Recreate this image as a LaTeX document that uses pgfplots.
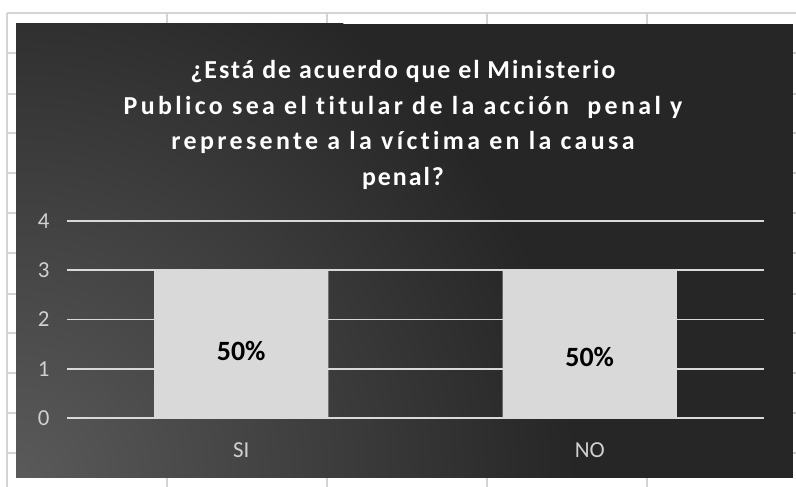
\documentclass[border=0pt]{standalone}
\usepackage{fontspec}
\setmainfont{Carlito}
\newfontfamily\titlefontA{Carlito}[LetterSpace=7.5, Ligatures=NoCommon]
\newfontfamily\titlefontB{Carlito}[LetterSpace=13, Ligatures=NoCommon]
\usepackage{pgfplots}
\pgfplotsset{compat=1.18}
\definecolor{bgdark}{HTML}{262626}
\definecolor{bglight}{HTML}{5A5A5A}
\definecolor{sheet}{HTML}{D4D4D4}
\definecolor{barc}{HTML}{D9D9D9}
\definecolor{gridc}{HTML}{D9D9D9}
\definecolor{tickc}{HTML}{D0D0D0}
\begin{document}
\begin{tikzpicture}[x=1bp,y=1bp]
\useasboundingbox (0,0) rectangle (796,487);
\fill[white] (0,0) rectangle (796,487);
\foreach \y in {13,53,94,133,173,213,253,294,333,373,413,453}
  \draw[sheet, line width=1.2bp] (7,{487-\y}) -- (796,{487-\y});
\foreach \x in {7,167,327,487,647}
  \draw[sheet, line width=1.2bp] (\x,0) -- (\x,474);
\fill[bgdark] (16,9) rectangle (793,463);
\begin{scope}
\clip (16,9) rectangle (793,463);
\shade[inner color=bglight, outer color=bgdark] (16,9) circle (560);
\end{scope}
% title
\node[white, font=\fontsize{26}{35.5}\selectfont\bfseries, align=center] at (403,362)
  {{\titlefontA\bfseries ¿Está de acuerdo que el Ministerio}\\{\titlefontB\bfseries Publico sea el titular de la acción\ \ penal y}\\{\titlefontB\bfseries represente a la víctima en la causa}\\{\titlefontA\bfseries penal?}};
\begin{axis}[
  at={(67bp,69bp)}, anchor=south west,
  scale only axis, width=697bp, height=197bp,
  xmin=-0.5, xmax=1.5, ymin=0, ymax=4,
  ytick={0,1,2,3,4}, xtick={0,1}, xticklabels={SI,NO},
  axis line style={draw=none}, major tick length=0,
  ymajorgrids, grid style={gridc, line width=1.8bp},
  ybar, bar width=0.5,
  /pgf/number format/assume math mode=true,
  tick label style={tickc, font=\fontsize{23}{27}\selectfont},
  yticklabel style={xshift=-14bp},
  xticklabel style={yshift=-21bp},
]
\addplot[fill=barc, draw=none] coordinates {(0,3) (1,3)};
\node[black, font=\fontsize{28}{32}\selectfont\bfseries] at (axis cs:0,1.36) {50\%};
\node[black, font=\fontsize{28}{32}\selectfont\bfseries] at (axis cs:1,1.24) {50\%};
\end{axis}
\end{tikzpicture}
\end{document}
